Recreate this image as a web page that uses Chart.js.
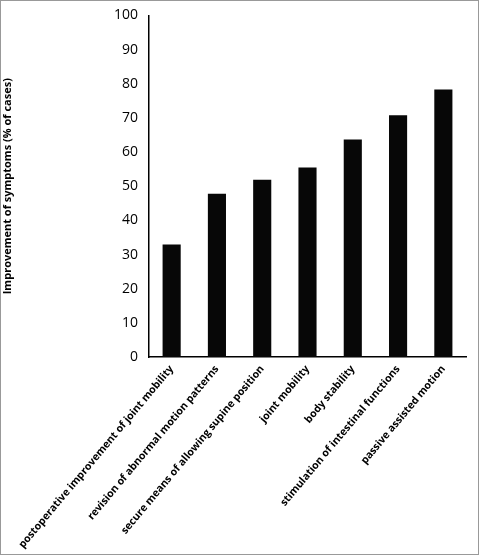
<!DOCTYPE html>
<html>
<head>
<meta charset="utf-8">
<script src="https://cdn.jsdelivr.net/npm/chart.js@4"></script>
<style>
  html, body { margin: 0; padding: 0; background: #fff; }
  #wrap { position: absolute; left: 0; top: 0; width: 477px; height: 553px; border: 1px solid #999; }
</style>
</head>
<body>
<div id="wrap"><canvas id="c"></canvas></div>
<script>
// categories and values
const categories = [
  'postoperative improvement of joint mobility',
  'revision of abnormal motion patterns',
  'secure means of allowing supine position',
  'joint mobility',
  'body stability',
  'stimulation of intestinal functions',
  'passive assisted motion',
];
const improvement = [32.9, 47.8, 51.9, 55.5, 63.7, 70.8, 78.3];

const font = { family: '"Open Sans", "Liberation Sans", sans-serif', size: 11, weight: 'bold' };

new Chart(document.getElementById('c'), {
  type: 'bar',
  data: {
    labels: categories,
    datasets: [{
      data: improvement,
      backgroundColor: '#070707',
      borderWidth: 0,
      barPercentage: 0.4,
      categoryPercentage: 1,
    }],
  },
  options: {
    responsive: true,
    maintainAspectRatio: false,
    animation: false,
    layout: { padding: { left: 0, top: 8, right: 12, bottom: 0 } },
    plugins: { legend: { display: false }, tooltip: { enabled: false } },
    scales: {
      x: {
        grid: { display: false, drawTicks: false },
        border: { color: '#000', width: 1.5 },
        afterFit: (s) => { s.height = 197; },
        ticks: {
          color: '#000', font: { ...font, size: 10.5 }, minRotation: 50, maxRotation: 50,
          autoSkip: false, padding: 6,
        },
      },
      y: {
        min: 0, max: 100,
        afterFit: (s) => { s.width = 148; },
        grid: { display: false, drawOnChartArea: false, drawTicks: true, tickLength: 5, color: '#000' },
        border: { color: '#000', width: 1.5 },
        ticks: { stepSize: 10, color: '#000', font: { ...font, size: 14, weight: 'normal' }, padding: 6 },
        title: { display: true, text: 'Improvement of symptoms (% of cases)', color: '#000', font: { ...font, size: 11 }, padding: { top: 0, bottom: 0 } },
      },
    },
  },
});
</script>
</body>
</html>
